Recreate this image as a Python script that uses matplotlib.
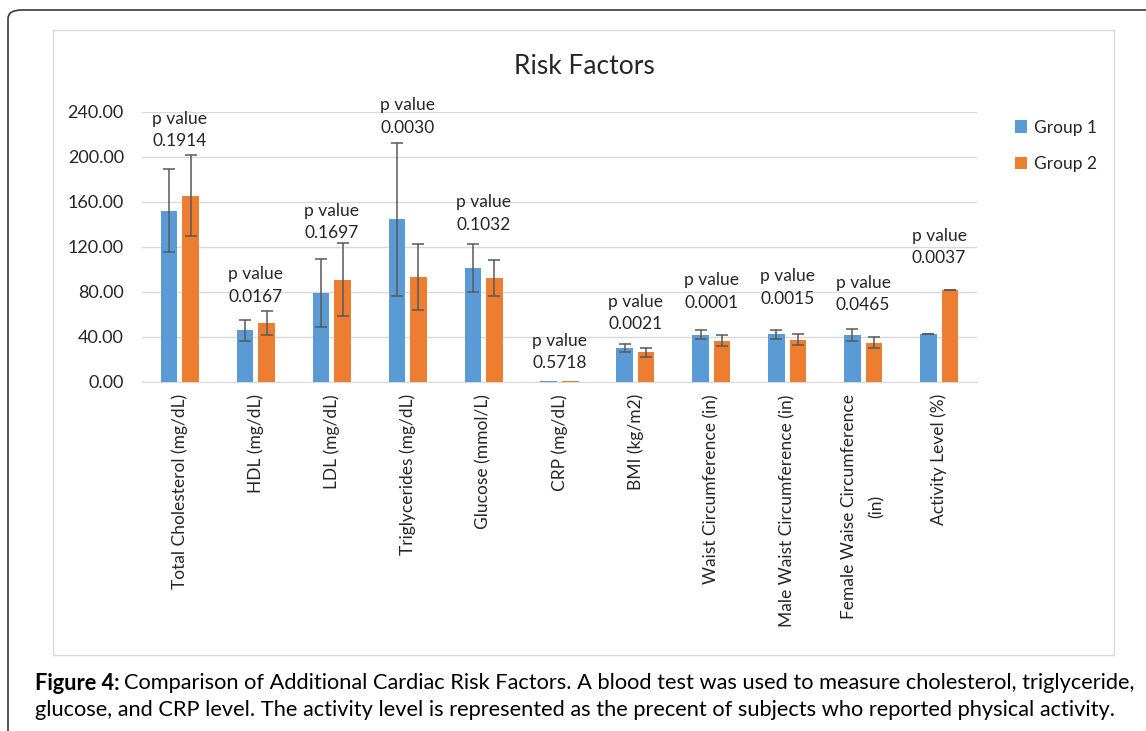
import numpy as np
import matplotlib.pyplot as plt
from matplotlib.patches import FancyBboxPatch, Rectangle

plt.rcParams['font.family'] = ['Lato', 'DejaVu Sans']

# Risk factor categories and group means / standard deviations
categories = [
    "Total Cholesterol (mg/dL)", "HDL (mg/dL)", "LDL (mg/dL)",
    "Triglycerides (mg/dL)", "Glucose (mmol/L)", "CRP (mg/dL)",
    "BMI (kg/m2)", "Waist Circumference (in)",
    "Male Waist Circumference (in)", "Female Waise Circumference\n(in)",
    "Activity Level (%)",
]
group1 = [152.0, 45.7, 78.6, 144.3, 101.3, 0.4, 29.7, 41.8, 42.2, 41.6, 42.1]
group1_sd = [37.0, 9.3, 30.3, 68.0, 21.3, np.nan, 3.7, 4.2, 3.8, 5.1, 0.0]
group2 = [165.3, 52.2, 90.5, 93.1, 92.5, 0.3, 26.0, 36.6, 37.5, 34.6, 81.3]
group2_sd = [35.8, 10.7, 32.5, 29.6, 16.0, np.nan, 3.7, 4.9, 4.5, 4.9, 0.0]
p_values = ["0.1914", "0.0167", "0.1697", "0.0030", "0.1032", "0.5718",
            "0.0021", "0.0001", "0.0015", "0.0465", "0.0037"]

# gap (pixels) between the taller error bar and the p-value label
pval_lift = [6, 6, 2, 7, 11, 10, 12, 19, 23, 16, 24]

blue = "#5B9BD5"
orange = "#ED7D31"
grid = "#D9D9D9"

fig = plt.figure(figsize=(11.46, 7.31), dpi=100)
W, H = 1146, 731


def fx(px):
    return px / W


def fy(py):
    return 1 - py / H


# outer rounded frame and the inner chart area
fig.patches.append(FancyBboxPatch((fx(8), fy(800)), fx(1200), fy(10) - fy(800),
                                  boxstyle="round,pad=0,rounding_size=0.012",
                                  transform=fig.transFigure, fill=False,
                                  ec="#3a3a3a", lw=1.2))
fig.patches.append(Rectangle((fx(53), fy(655)), fx(1114) - fx(53), fy(30) - fy(655),
                             transform=fig.transFigure, fill=False, ec=grid, lw=1))

ax = fig.add_axes([fx(142), fy(381.7), fx(977) - fx(142), fy(111.7) - fy(381.7)])

x = np.arange(len(categories))
w = 0.217
off = 0.142
err_kw = dict(ecolor="#595959", elinewidth=1.1, capsize=4, capthick=1.1)
ax.bar(x - off, group1, w, yerr=group1_sd, color=blue, label="Group 1",
       error_kw=err_kw, zorder=3)
ax.bar(x + off, group2, w, yerr=group2_sd, color=orange, label="Group 2",
       error_kw=err_kw, zorder=3)

for i, p in enumerate(p_values):
    top = np.nanmax([group1[i] + np.nan_to_num(group1_sd[i]),
                     group2[i] + np.nan_to_num(group2_sd[i])])
    ax.annotate(f"p value\n{p}", (x[i], top), xytext=(0, pval_lift[i]),
                textcoords="offset pixels", ha="center", va="bottom",
                fontsize=12.5, linespacing=1.5, color="#262626")

ax.set_xlim(-0.5, len(categories) - 0.5)
ax.set_ylim(0, 240)
ax.set_yticks(np.arange(0, 241, 40))
ax.set_yticklabels([f"{v:.2f}" for v in np.arange(0, 241, 40)])
ax.set_xticks(x)
ax.set_xticklabels(categories, rotation=90, va="top", ha="center",
                   multialignment="center", linespacing=1.9)
ax.tick_params(axis="both", length=0, labelsize=12.5, colors="#262626")
ax.tick_params(axis="y", pad=13, labelsize=13)
ax.tick_params(axis="x", pad=9)
ax.yaxis.grid(True, color=grid, lw=1, zorder=0)
for s in ["top", "right", "left"]:
    ax.spines[s].set_visible(False)
ax.spines["bottom"].set_color(grid)

fig.text(fx(584), fy(66), "Risk Factors", ha="center", va="center",
         fontsize=19, color="#262626")

fig.legend(loc="upper left", bbox_to_anchor=(fx(999), fy(104)), frameon=False,
           fontsize=12.5, handlelength=0.7, handleheight=0.7, handletextpad=0.4,
           labelspacing=1.2, labelcolor="#262626")

# caption below the chart
cap_size = 15.7
bold = fig.text(fx(35), fy(683), "Figure 4:", fontsize=cap_size, weight="bold",
                va="center", ha="left")
fig.canvas.draw()
bb = bold.get_window_extent()
fig.text(bb.x1 / W + fx(4), fy(683),
         "Comparison of Additional Cardiac Risk Factors. A blood test was used to "
         "measure cholesterol, triglyceride,",
         fontsize=cap_size, va="center", ha="left")
fig.text(fx(35), fy(710),
         "glucose, and CRP level. The activity level is represented as the precent "
         "of subjects who reported physical activity.",
         fontsize=cap_size, va="center", ha="left")

fig.savefig("out.png", dpi=100)
